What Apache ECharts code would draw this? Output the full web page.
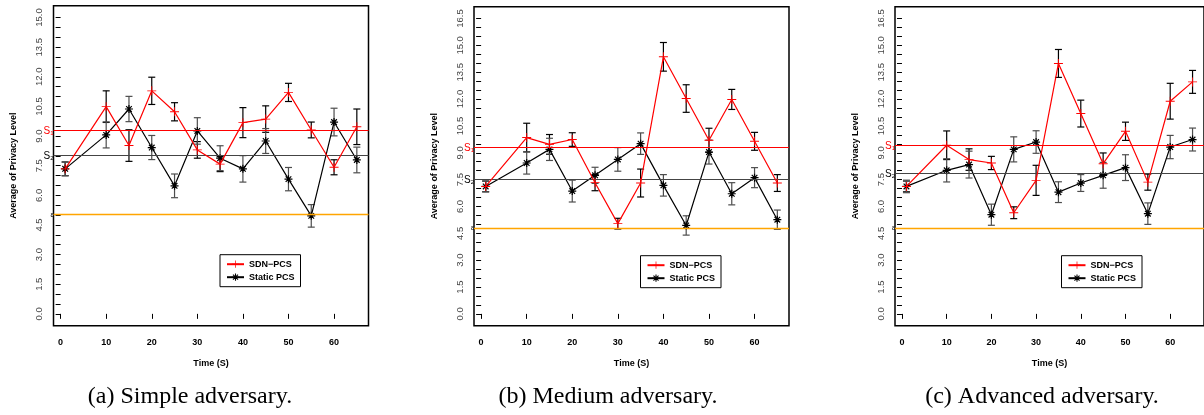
<!DOCTYPE html>
<html>
<head>
<meta charset="utf-8">
<script src="https://cdn.jsdelivr.net/npm/echarts@6/dist/echarts.min.js"></script>
<style>
  html, body { margin: 0; padding: 0; background: #fff; }
  #chart { width: 1204px; height: 415px; }
</style>
</head>
<body>
<div id="chart"></div>
<script>
// sample times (S)
const times = [1, 10, 15, 20, 25, 30, 35, 40, 45, 50, 55, 60, 65];

// (a) simple adversary
const simpleSdn = [7.34, 10.49, 8.52, 11.29, 10.23, 8.30, 7.58, 9.68, 9.86, 11.21, 9.31, 7.42, 9.47];
const simpleSdnErr = [0.35, 0.8, 0.8, 0.69, 0.46, 0.42, 0.38, 0.76, 0.67, 0.46, 0.4, 0.38, 0.9];
const simpleStatic = [7.34, 9.06, 10.37, 8.42, 6.48, 9.26, 7.88, 7.34, 8.75, 6.82, 4.96, 9.71, 7.79];
const simpleStaticErr = [0.34, 0.66, 0.64, 0.61, 0.6, 0.67, 0.63, 0.67, 0.63, 0.59, 0.57, 0.7, 0.65];
const simpleLevels = [9.29, 8.01, 5.02];

// (b) medium adversary
const mediumSdn = [7.12, 9.85, 9.47, 9.74, 7.33, 5.04, 7.31, 14.36, 12.03, 9.70, 11.98, 9.64, 7.31];
const mediumSdnErr = [0.3, 0.8, 0.55, 0.38, 0.45, 0.3, 0.78, 0.8, 0.77, 0.67, 0.56, 0.5, 0.47];
const mediumStatic = [7.12, 8.43, 9.19, 6.86, 7.74, 8.63, 9.51, 7.18, 4.94, 9.04, 6.71, 7.61, 5.26];
const mediumStaticErr = [0.3, 0.62, 0.62, 0.61, 0.45, 0.66, 0.6, 0.6, 0.54, 0.67, 0.62, 0.56, 0.54];
const mediumLevels = [9.31, 7.53, 4.81];

// (c) advanced adversary
const advancedSdn = [7.12, 9.42, 8.62, 8.43, 5.65, 7.46, 13.99, 11.19, 8.39, 10.2, 7.36, 11.88, 12.96];
const advancedSdnErr = [0.3, 0.8, 0.6, 0.37, 0.33, 0.84, 0.78, 0.75, 0.6, 0.51, 0.45, 1.0, 0.64];
const advancedStatic = [7.12, 8.02, 8.34, 5.54, 9.19, 9.60, 6.80, 7.31, 7.74, 8.17, 5.6, 9.32, 9.74];
const advancedStaticErr = [0.35, 0.65, 0.75, 0.59, 0.7, 0.63, 0.58, 0.47, 0.72, 0.72, 0.6, 0.65, 0.64];
const advancedLevels = [9.42, 7.87, 4.81];

// axis ticks
const xTicks = [0, 10, 20, 30, 40, 50, 60];
const yTicksA = [0, 0.5, 1, 1.5, 2, 2.5, 3, 3.5, 4, 4.5, 5, 5.5, 6, 6.5, 7, 7.5, 8, 8.5, 9, 9.5,
  10, 10.5, 11, 11.5, 12, 12.5, 13, 13.5, 14, 14.5, 15];
const yLabelsA = [0, 1.5, 3, 4.5, 6, 7.5, 9, 10.5, 12, 13.5, 15];
const yTicksB = yTicksA.concat([15.5, 16, 16.5]);
const yLabelsB = yLabelsA.concat([16.5]);

const captions = ['(a) Simple adversary.', '(b) Medium adversary.', '(c) Advanced adversary.'];
const sdnName = 'SDN\u2212PCS';
const staticName = 'Static PCS';

const panels = [
  { sdn: simpleSdn, sdnErr: simpleSdnErr, st: simpleStatic, stErr: simpleStaticErr, levels: simpleLevels,
    left: 53.5, top: 5.7, height: 320, ymin: -0.6, ymax: 15.6, ticks: yTicksA, labels: yLabelsA, cx: 190 },
  { sdn: mediumSdn, sdnErr: mediumSdnErr, st: mediumStatic, stErr: mediumStaticErr, levels: mediumLevels,
    left: 474, top: 6.7, height: 319, ymin: -0.66, ymax: 17.16, ticks: yTicksB, labels: yLabelsB, cx: 608 },
  { sdn: advancedSdn, sdnErr: advancedSdnErr, st: advancedStatic, stErr: advancedStaticErr, levels: advancedLevels,
    left: 895, top: 6.7, height: 319, ymin: -0.66, ymax: 17.16, ticks: yTicksB, labels: yLabelsB, cx: 1042 }
];

const plusPath = 'path://M-1,-10L1,-10L1,-1L10,-1L10,1L1,1L1,10L-1,10L-1,1L-10,1L-10,-1L-1,-1Z';
const starPath = 'path://M-1.5,-10L1.5,-10L1.5,-1.5L10,-1.5L10,1.5L1.5,1.5L1.5,10L-1.5,10L-1.5,1.5L-10,1.5L-10,-1.5L-1.5,-1.5Z' +
  'M-6,-8.1L8.1,6L6,8.1L-8.1,-6Z M-8.1,6L6,-8.1L8.1,-6L-6,8.1Z';

const font = 'Liberation Sans, Arial, sans-serif';

function errorBars(color) {
  return function (params, api) {
    const x = api.value(0);
    const lo = api.coord([x, api.value(1)]);
    const hi = api.coord([x, api.value(2)]);
    const cap = 3.5;
    const style = { stroke: color, lineWidth: 1.2 };
    return {
      type: 'group',
      children: [
        { type: 'line', shape: { x1: lo[0], y1: lo[1], x2: hi[0], y2: hi[1] }, style: style },
        { type: 'line', shape: { x1: lo[0] - cap, y1: lo[1], x2: lo[0] + cap, y2: lo[1] }, style: style },
        { type: 'line', shape: { x1: hi[0] - cap, y1: hi[1], x2: hi[0] + cap, y2: hi[1] }, style: style }
      ]
    };
  };
}

const grid = [], xAxis = [], yAxis = [], series = [], legend = [], graphic = [];

panels.forEach(function (p, i) {
  grid.push({
    left: p.left, top: p.top, width: 315, height: p.height,
    show: true, borderColor: '#000', borderWidth: 1.5, backgroundColor: 'transparent'
  });
  xAxis.push({
    type: 'value', gridIndex: i, min: -1.56, max: 67.56,
    name: 'Time (S)', nameLocation: 'middle', nameGap: 33,
    nameTextStyle: { fontFamily: font, fontSize: 9, fontWeight: 'bold', color: '#000' },
    axisLine: { show: false },
    axisTick: { show: true, length: 5, lineStyle: { color: '#000' }, customValues: xTicks },
    axisLabel: { fontFamily: font, fontSize: 9, fontWeight: 'bold', color: '#000', margin: 12, customValues: xTicks },
    splitLine: { show: false }
  });
  yAxis.push({
    type: 'value', gridIndex: i, min: p.ymin, max: p.ymax,
    name: 'Average of Privacy Level', nameLocation: 'middle', nameGap: 35,
    nameTextStyle: { fontFamily: font, fontSize: 9, fontWeight: 'bold', color: '#000' },
    axisLine: { show: false },
    axisTick: { show: true, length: 5, lineStyle: { color: '#000' }, customValues: p.ticks },
    axisLabel: {
      fontFamily: font, fontSize: 9.5, color: '#444', rotate: 90, margin: 9,
      customValues: p.labels,
      formatter: function (v) { return v.toFixed(1); }
    },
    splitLine: { show: false }
  });

  series.push({
    name: 'sdnErr' + i, type: 'custom', xAxisIndex: i, yAxisIndex: i, z: 3,
    renderItem: errorBars('#000'),
    data: times.map(function (t, k) { return [t, p.sdn[k] - p.sdnErr[k], p.sdn[k] + p.sdnErr[k]]; })
  });
  series.push({
    name: 'stErr' + i, type: 'custom', xAxisIndex: i, yAxisIndex: i, z: 3,
    renderItem: errorBars('#4d4d4d'),
    data: times.map(function (t, k) { return [t, p.st[k] - p.stErr[k], p.st[k] + p.stErr[k]]; })
  });
  series.push({
    name: staticName, type: 'line', xAxisIndex: i, yAxisIndex: i, z: 4,
    symbol: starPath, symbolSize: 8, color: '#000',
    lineStyle: { color: '#000', width: 1.2 },
    data: times.map(function (t, k) { return [t, p.st[k]]; })
  });
  series.push({
    name: sdnName, type: 'line', xAxisIndex: i, yAxisIndex: i, z: 5,
    symbol: plusPath, symbolSize: 9, color: '#ff0000',
    lineStyle: { color: '#ff0000', width: 1.2 },
    data: times.map(function (t, k) { return [t, p.sdn[k]]; }),
    markLine: {
      silent: true, symbol: 'none', animation: false,
      data: [
        { yAxis: p.levels[0], lineStyle: { color: '#ff0000', width: 1.2, type: 'solid' },
          label: { formatter: '{s|S}{b|1}', color: '#ff0000' } },
        { yAxis: p.levels[1], lineStyle: { color: '#444', width: 1.2, type: 'solid' },
          label: { formatter: '{s|S}{b|2}', color: '#000' } },
        { yAxis: p.levels[2], lineStyle: { color: '#ffa500', width: 1.4, type: 'solid' },
          label: { formatter: '{e|\u03b5}', color: '#000' } }
      ],
      label: {
        position: 'start', distance: 0, fontFamily: font,
        rich: {
          s: { fontSize: 10, lineHeight: 12, verticalAlign: 'bottom', fontFamily: font },
          b: { fontSize: 6, lineHeight: 12, verticalAlign: 'bottom', fontFamily: font },
          e: { fontSize: 7, lineHeight: 12, fontFamily: font }
        }
      }
    }
  });

  legend.push({
    data: [sdnName, staticName],
    orient: 'vertical',
    left: p.left + 166.5, top: p.top + 249,
    padding: [5, 6], itemGap: 4, itemWidth: 17, itemHeight: 9,
    borderColor: '#000', borderWidth: 1, backgroundColor: '#fff',
    textStyle: { fontFamily: font, fontSize: 9, fontWeight: 'bold', color: '#000' }
  });

  graphic.push({
    type: 'text', x: p.cx, y: 397,
    style: { text: captions[i], fontFamily: 'Liberation Serif, Times New Roman, serif', fontSize: 24, fill: '#000',
      align: 'center', verticalAlign: 'middle' }
  });
});

const chart = echarts.init(document.getElementById('chart'));
chart.setOption({
  animation: false,
  backgroundColor: '#fff',
  grid: grid,
  xAxis: xAxis,
  yAxis: yAxis,
  legend: legend,
  series: series,
  graphic: graphic
});
</script>
</body>
</html>
